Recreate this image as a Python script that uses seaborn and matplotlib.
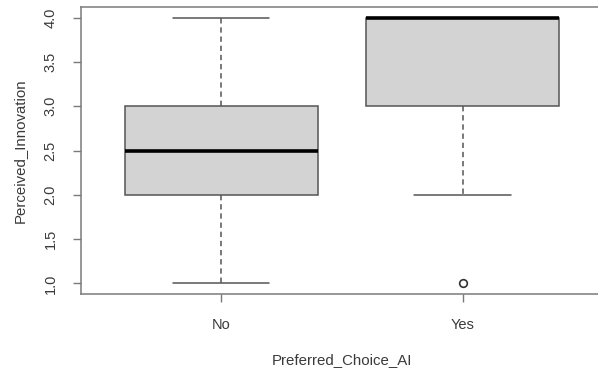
import matplotlib
matplotlib.use("Agg")
import matplotlib.pyplot as plt
import seaborn as sns
import pandas as pd

# Survey responses: perceived innovation score (1-4) by whether AI was the preferred choice
groups = ["No", "Yes"]
scores_no = [1, 2, 2, 2, 3, 3, 3, 4]
scores_yes = [1, 2, 3, 3, 4, 4, 4, 4, 4, 4]
y_ticks = [1.0, 1.5, 2.0, 2.5, 3.0, 3.5, 4.0]

df = pd.DataFrame({
    "Preferred_Choice_AI": [groups[0]] * len(scores_no) + [groups[1]] * len(scores_yes),
    "Perceived_Innovation": scores_no + scores_yes,
})

sns.set_style("white")
plt.rcParams["font.family"] = ["Liberation Sans", "DejaVu Sans"]

text_col = "#3a3a3a"
frame_col = "#7a7a7a"
line_col = "#555555"

fig = plt.figure(figsize=(5.98, 3.74), dpi=100)
ax = fig.add_axes([81 / 598, 1 - 294 / 374, (603 - 81) / 598, (294 - 7) / 374])

sns.boxplot(
    data=df, x="Preferred_Choice_AI", y="Perceived_Innovation",
    order=groups, color="#d3d3d3", saturation=1, width=0.8,
    linecolor=line_col, linewidth=1.1, ax=ax,
    whiskerprops=dict(linestyle=(0, (3.5, 2.5)), color=line_col, linewidth=1.1),
    capprops=dict(linestyle="-", color=line_col, linewidth=1.1),
    medianprops=dict(color="black", linewidth=2.6),
    flierprops=dict(marker="o", markersize=5.5, markerfacecolor="none",
                    markeredgecolor="#333333", markeredgewidth=1.2),
)

ax.set_xlim(-0.58, 1.58)
ax.set_ylim(0.88, 4.12)
ax.set_yticks(y_ticks)
ax.set_yticklabels([f"{t:.1f}" for t in y_ticks])

for side in ["left", "right", "top", "bottom"]:
    ax.spines[side].set_visible(True)
    ax.spines[side].set_color(frame_col)
    ax.spines[side].set_linewidth(1.1)

ax.tick_params(axis="both", which="major", bottom=True, left=True,
               length=6, width=1.0, color=frame_col,
               labelsize=10.5, labelcolor=text_col, direction="out")
ax.tick_params(axis="y", pad=11, labelrotation=90)
ax.tick_params(axis="x", pad=11)
for lab in ax.get_yticklabels():
    lab.set_va("center")

ax.set_xlabel("Preferred_Choice_AI", fontsize=10.8, color=text_col, labelpad=15.5)
ax.set_ylabel("Perceived_Innovation", fontsize=10.8, color=text_col, labelpad=12)

fig.savefig("out.png", dpi=100)
